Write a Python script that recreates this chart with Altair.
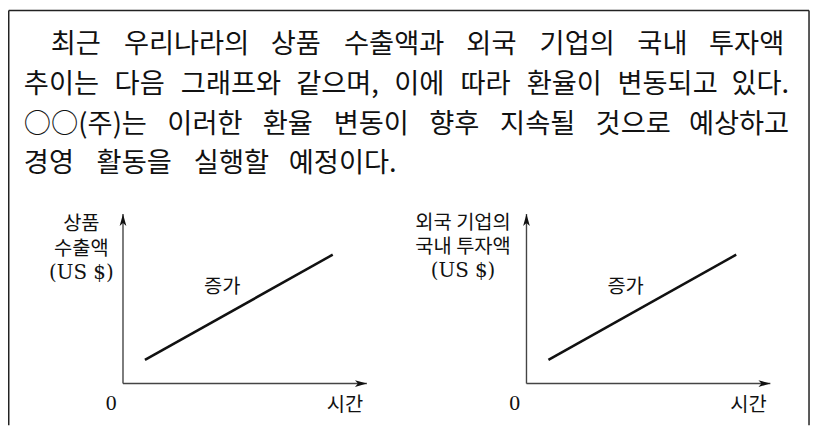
import altair as alt
import pandas as pd

# ---------------- data ----------------
paragraph_lines = [
    "최근 우리나라의 상품 수출액과 외국 기업의 국내 투자액",
    "추이는 다음 그래프와 같으며, 이에 따라 환율이 변동되고 있다.",
    "○○(주)는 이러한 환율 변동이 향후 지속될 것으로 예상하고",
    "경영 활동을 실행할 예정이다.",
]
panel_y_titles = [
    ["상품", "수출액", "(US $)"],
    ["외국 기업의", "국내 투자액", "(US $)"],
]
trend_text = "증가"
time_label = "시간"
origin_label = "0"
trend_time = [0.9, 8.6]
export_amount = [1.4, 7.6]
investment_amount = [1.4, 7.6]

# ---------------- layout ----------------
W, H = 810, 419
OFF = 8  # page margin
FONT_KR = "Noto Sans CJK KR"
FONT_SERIF = "DejaVu Serif"
FONT_NUM = "Liberation Serif"
INK = "#111111"
FS_PARA = 27.5
FS_LAB = 20
FS_SERIF = 20

# (start x, end x, centre y) of every paragraph line, page pixels
line_specs = [(51, 791, 41), (24, 796, 82), (24, 796, 122), (24, 400, 161)]


def char_em(c):
    if c in ",.":
        return 0.27
    if c in "()":
        return 0.33
    if c == "○":
        return 1.0
    return 0.9


rows = []
for line, (xs, xe, yc) in zip(paragraph_lines, line_specs):
    words = line.split(" ")
    widths = [sum(char_em(c) for c in w) * FS_PARA for w in words]
    gap = (xe - xs - sum(widths)) / (len(words) - 1)
    x = xs
    for j, (w, wd) in enumerate(zip(words, widths)):
        if j == len(words) - 1:
            rows.append(dict(word=w, x=xe - OFF, y=yc + 2.3 - OFF, side="right"))
        else:
            rows.append(dict(word=w, x=x - OFF, y=yc + 2.3 - OFF, side="left"))
        x += wd + gap
para_df = pd.DataFrame(rows)

para_left = alt.Chart(para_df).transform_filter(alt.datum.side == "left").mark_text(
    font=FONT_KR, fontSize=FS_PARA, align="left", baseline="middle", color=INK
).encode(x=alt.X("x:Q", scale=None), y=alt.Y("y:Q", scale=None), text="word:N")
para_right = alt.Chart(para_df).transform_filter(alt.datum.side == "right").mark_text(
    font=FONT_KR, fontSize=FS_PARA, align="right", baseline="middle", color=INK
).encode(x=alt.X("x:Q", scale=None), y=alt.Y("y:Q", scale=None), text="word:N")

# frame (left, right, top)
frame_df = pd.DataFrame({
    "x": [0.75, W - 2, 0.75], "y": [0.75, 0.75, 0.75],
    "x2": [0.75, W - 2, W - 2], "y2": [H, H, 0.75],
})
frame = alt.Chart(frame_df).mark_rule(color="#222222", strokeWidth=1.5).encode(
    x=alt.X("x:Q", scale=None), y=alt.Y("y:Q", scale=None),
    x2="x2:Q", y2="y2:Q",
)

ARROW = "M0,0L0.45,1.6L0,1.2L-0.45,1.6Z"

axis_x0 = [124, 531]      # page x of each y axis
axis_y0 = 385             # page y of the x axes
axis_len_x = 246
axis_top = 214
title_dx = [-42, -64]
title_ys = [[222, 248, 273], [221, 246, 271]]


def panel(i, values):
    ox = axis_x0[i] - OFF
    xs = alt.Scale(domain=[0, 10], range=[ox, ox + axis_len_x], nice=False, zero=False)
    ys = alt.Scale(domain=[0, 10], range=[axis_y0 - OFF, axis_top - OFF], nice=False, zero=False)
    X = lambda f: alt.X(f, scale=xs, axis=None)
    Y = lambda f: alt.Y(f, scale=ys, axis=None)
    axes_df = pd.DataFrame({"t": [0, 0], "v": [0, 0], "t2": [0, 10], "v2": [10, 0]})
    axes = alt.Chart(axes_df).mark_rule(color="#444444", strokeWidth=1.4).encode(
        x=X("t:Q"), y=Y("v:Q"), x2="t2:Q", y2="v2:Q")
    heads_df = pd.DataFrame({"t": [0, 10], "v": [10, 0], "ang": [0, 90]})
    heads = alt.Chart(heads_df).mark_point(
        shape=ARROW, filled=True, size=225, color=INK, opacity=1, strokeWidth=0
    ).encode(x=X("t:Q"), y=Y("v:Q"), angle=alt.Angle("ang:Q", scale=None))
    line_df = pd.DataFrame({"t": trend_time, "v": values})
    line = alt.Chart(line_df).mark_line(color=INK, strokeWidth=2.6).encode(
        x=X("t:Q"), y=Y("v:Q"))
    return alt.layer(axes, heads, line)


p1 = panel(0, export_amount)
p2 = panel(1, investment_amount)

kr_rows, serif_rows, num_rows = [], [], []
for i in range(2):
    ax = axis_x0[i]
    for txt, yc in zip(panel_y_titles[i], title_ys[i]):
        if txt.startswith("("):
            serif_rows.append(dict(t=txt, x=ax + title_dx[i] - OFF, y=yc + 1 - OFF))
        else:
            kr_rows.append(dict(t=txt, x=ax + title_dx[i] - OFF, y=yc + 1.7 - OFF))
    kr_rows.append(dict(t=trend_text, x=ax + 100 - OFF, y=286 + 1.7 - OFF))
    kr_rows.append(dict(t=time_label, x=ax + 224 - OFF, y=405 + 1.7 - OFF))
    num_rows.append(dict(t=origin_label, x=ax - 12 - OFF, y=404 + 1 - OFF))

labels_kr = alt.Chart(pd.DataFrame(kr_rows)).mark_text(
    font=FONT_KR, fontSize=FS_LAB, align="center", baseline="middle", color=INK
).encode(x=alt.X("x:Q", scale=None), y=alt.Y("y:Q", scale=None), text="t:N")
labels_serif = alt.Chart(pd.DataFrame(serif_rows)).mark_text(
    font=FONT_SERIF, fontSize=FS_SERIF, align="center", baseline="middle", color=INK
).encode(x=alt.X("x:Q", scale=None), y=alt.Y("y:Q", scale=None), text="t:N")
labels_num = alt.Chart(pd.DataFrame(num_rows)).mark_text(
    font=FONT_NUM, fontSize=22, align="center", baseline="middle", color=INK
).encode(x=alt.X("x:Q", scale=None), y=alt.Y("y:Q", scale=None), text="t:N")

chart = alt.layer(
    frame, para_left, para_right, p1, p2, labels_kr, labels_serif, labels_num
).resolve_scale(x="independent", y="independent").properties(
    width=W, height=H, padding=0, autosize="none", background="white"
).configure_view(stroke=None)

chart.save("out.html", embed_options={"renderer": "svg", "actions": False})
